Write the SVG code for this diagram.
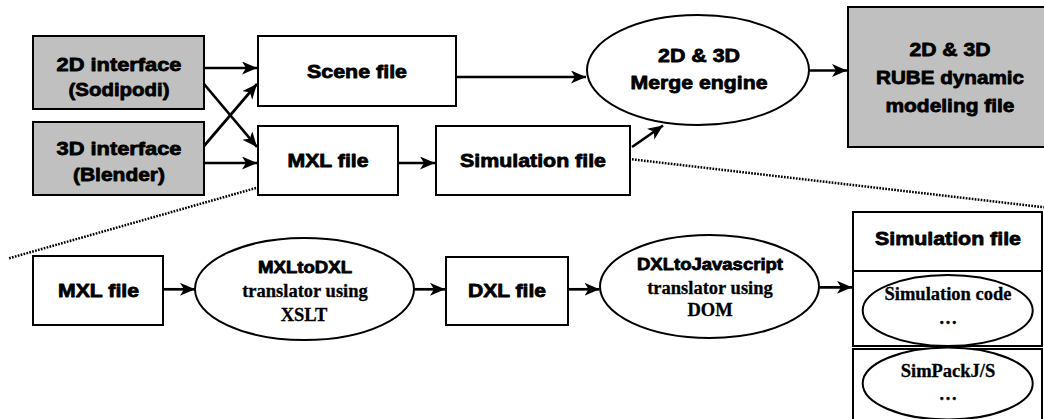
<svg xmlns="http://www.w3.org/2000/svg" width="1044" height="419" viewBox="0 0 1044 419">
<defs>
<marker id="ah" markerUnits="userSpaceOnUse" markerWidth="16" markerHeight="14" refX="15" refY="6.5" orient="auto">
<path d="M0,0 L15,6.5 L0,13 L4,6.5 Z" fill="#000"/>
</marker>
<style>
.box{fill:#fff;stroke:#000;stroke-width:2}
.gray{fill:#c0c0c0;stroke:#000;stroke-width:2}
.ell{fill:#fff;stroke:#000;stroke-width:2}
.s{font-family:"Liberation Sans",Arial,sans-serif;font-weight:bold;font-size:19px;text-anchor:middle;fill:#000;stroke:#000;stroke-width:0.8;stroke-linejoin:round}
.s2{font-size:16.5px}
.r{font-family:"Liberation Serif","Times New Roman",serif;font-weight:bold;font-size:18.5px;text-anchor:middle;fill:#000;stroke:#000;stroke-width:0.3}
.arr{stroke:#000;stroke-width:2.7;fill:none;marker-end:url(#ah)}
.dot{stroke:#000;stroke-width:2.5;fill:none;stroke-dasharray:1.7 1.3}
</style>
</defs>
<rect width="1044" height="419" fill="#fff"/>

<g id="n2d">
<rect class="gray" x="33" y="36" width="171" height="73"/>
<text class="s" x="119" y="70.5" textLength="125" lengthAdjust="spacingAndGlyphs">2D interface</text>
<text class="s" x="119" y="96" textLength="101" lengthAdjust="spacingAndGlyphs">(Sodipodi)</text>
</g>
<g id="n3d">
<rect class="gray" x="33" y="122" width="171" height="73"/>
<text class="s" x="119" y="155" textLength="125" lengthAdjust="spacingAndGlyphs">3D interface</text>
<text class="s" x="119" y="181" textLength="92" lengthAdjust="spacingAndGlyphs">(Blender)</text>
</g>
<g id="scene">
<rect class="box" x="258" y="36" width="198" height="70"/>
<text class="s" x="357" y="77.5" textLength="100" lengthAdjust="spacingAndGlyphs">Scene file</text>
</g>
<g id="mxl">
<rect class="box" x="258" y="126" width="140" height="69"/>
<text class="s" x="328" y="167" textLength="81" lengthAdjust="spacingAndGlyphs">MXL file</text>
</g>
<g id="sim">
<rect class="box" x="436" y="126" width="194" height="69"/>
<text class="s" x="533" y="167" textLength="146" lengthAdjust="spacingAndGlyphs">Simulation file</text>
</g>
<g id="merge">
<ellipse class="ell" cx="698" cy="70" rx="111" ry="55"/>
<text class="s" x="699" y="62" textLength="82" lengthAdjust="spacingAndGlyphs">2D &amp; 3D</text>
<text class="s" x="699" y="89" textLength="137" lengthAdjust="spacingAndGlyphs">Merge engine</text>
</g>
<g id="rube">
<rect class="gray" x="848" y="7" width="204" height="140"/>
<text class="s" x="950" y="55.5" textLength="81" lengthAdjust="spacingAndGlyphs">2D &amp; 3D</text>
<text class="s" x="950" y="84" textLength="148" lengthAdjust="spacingAndGlyphs">RUBE dynamic</text>
<text class="s" x="950" y="111.5" textLength="129" lengthAdjust="spacingAndGlyphs">modeling file</text>
</g>

<g id="mxl2">
<rect class="box" x="33" y="256" width="130" height="69"/>
<text class="s" x="98.5" y="297" textLength="81" lengthAdjust="spacingAndGlyphs">MXL file</text>
</g>
<g id="mxltodxl">
<ellipse class="ell" cx="304.5" cy="289" rx="109.5" ry="51"/>
<text class="s s2" x="305" y="273" textLength="94" lengthAdjust="spacingAndGlyphs">MXLtoDXL</text>
<text class="r" x="305" y="297">translator using</text>
<text class="r" x="304" y="320.5">XSLT</text>
</g>
<g id="dxl">
<rect class="box" x="446" y="257" width="122" height="68"/>
<text class="s" x="507" y="297" textLength="78" lengthAdjust="spacingAndGlyphs">DXL file</text>
</g>
<g id="dxltojs">
<ellipse class="ell" cx="709.5" cy="286.5" rx="109.5" ry="51.5"/>
<text class="s s2" x="710" y="270" textLength="146" lengthAdjust="spacingAndGlyphs">DXLtoJavascript</text>
<text class="r" x="710" y="293.5">translator using</text>
<text class="r" x="710" y="316">DOM</text>
</g>
<g id="simstack">
<rect class="box" x="853" y="212" width="189" height="59"/>
<text class="s" x="948" y="245" textLength="146" lengthAdjust="spacingAndGlyphs">Simulation file</text>
<rect class="box" x="853" y="271" width="189" height="75"/>
<rect class="box" x="853" y="349" width="189" height="80"/>
<g id="simcode">
<ellipse class="ell" cx="947.7" cy="310.5" rx="85" ry="35.5"/>
<text class="r" x="948" y="300">Simulation code</text>
<text class="r" x="948" y="324">…</text>
</g>
<g id="simpack">
<ellipse class="ell" cx="947.7" cy="383.5" rx="85" ry="36"/>
<text class="r" x="948" y="376.5">SimPackJ/S</text>
<text class="r" x="948" y="400">…</text>
</g>
</g>

<g id="connectors">
<line class="arr" x1="204" y1="68" x2="257" y2="68"/>
<line class="arr" x1="204" y1="84" x2="257" y2="147"/>
<line class="arr" x1="204" y1="146" x2="257" y2="84"/>
<line class="arr" x1="204" y1="163" x2="257" y2="163"/>
<line class="arr" x1="456" y1="77" x2="586" y2="77"/>
<line class="arr" x1="398" y1="163" x2="435" y2="163"/>
<line class="arr" x1="632" y1="147" x2="663" y2="125.5"/>
<line class="arr" x1="809" y1="70.5" x2="847" y2="70.5"/>
<line class="arr" x1="163" y1="289.3" x2="195" y2="289.3"/>
<line class="arr" x1="414" y1="289.3" x2="445" y2="289.3"/>
<line class="arr" x1="568" y1="289.3" x2="599.5" y2="289.3"/>
<line class="arr" x1="819" y1="287.3" x2="852" y2="287.3"/>
<line class="dot" x1="256" y1="188" x2="9" y2="258.3"/>
<line class="dot" x1="632" y1="159.3" x2="1044" y2="207.3"/>
</g>
</svg>
